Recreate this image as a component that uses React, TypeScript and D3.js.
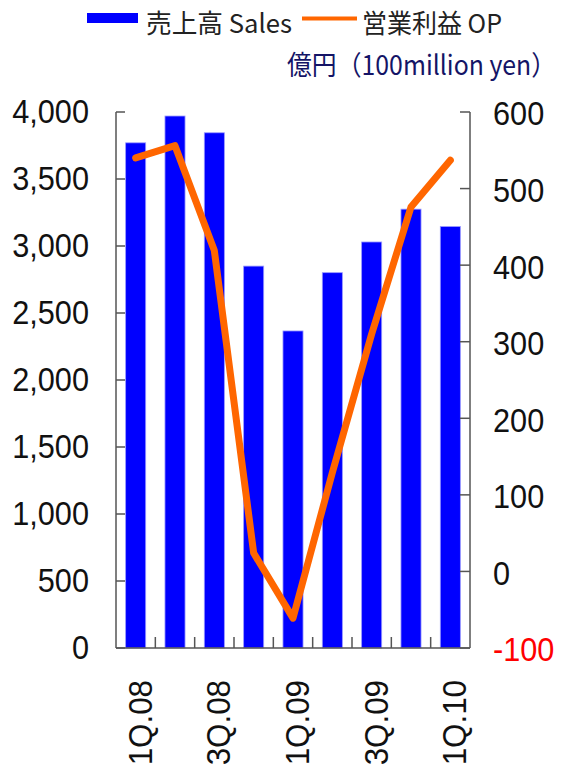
import React from "react";
import * as d3 from "d3";

// Quarterly figures, 100 million yen
const quarters = ["1Q.08", "2Q.08", "3Q.08", "4Q.08", "1Q.09", "2Q.09", "3Q.09", "4Q.09", "1Q.10"];
const sales = [3770, 3970, 3845, 2850, 2366, 2801, 3030, 3275, 3145];
const operatingProfit = [540, 556, 419, 24, -61, 129, 310, 476, 537];
const salesTicks = [0, 500, 1000, 1500, 2000, 2500, 3000, 3500, 4000];
const opTicks = [-100, 0, 100, 200, 300, 400, 500, 600];
const shownQuarterLabels = ["1Q.08", "3Q.08", "1Q.09", "3Q.09", "1Q.10"];

const W = 563;
const H = 765;
const plot = { left: 116, right: 470, top: 112, bottom: 648 };

const NUM_FONT = "'Liberation Sans', Arial, sans-serif";
const JP_FONT = "'Noto Sans CJK JP', 'Liberation Sans', sans-serif";
const AXIS_COLOR = "#555555";

export default function App() {
  const x = d3
    .scaleBand<string>()
    .domain(quarters)
    .range([plot.left, plot.right])
    .paddingInner(0.49)
    .paddingOuter(0.245);
  const band = d3.scaleBand<string>().domain(quarters).range([plot.left, plot.right]);
  const ySales = d3.scaleLinear().domain([0, 4000]).range([plot.bottom, plot.top]);
  const yOp = d3.scaleLinear().domain([-100, 600]).range([plot.bottom, plot.top]);
  const fmt = d3.format(",");

  const line = d3
    .line<number>()
    .x((_, i) => (band(quarters[i]) as number) + band.bandwidth() / 2)
    .y((d) => yOp(d));

  return (
    <svg
      width={W}
      height={H}
      style={{ position: "absolute", left: 0, top: 0, background: "#fff" }}
    >
      {/* legend */}
      <rect x={87} y={13} width={51} height={10} fill="#0000ff" />
      <text
        x={146}
        y={33}
        fontFamily={JP_FONT}
        fontSize={26}
        fill="#222"
        textLength={146}
        lengthAdjust="spacingAndGlyphs"
      >
        売上高 Sales
      </text>
      <line x1={302} x2={357} y1={18.5} y2={18.5} stroke="#ff6600" strokeWidth={4} />
      <text
        x={362}
        y={33}
        fontFamily={JP_FONT}
        fontSize={26}
        fill="#222"
        textLength={140}
        lengthAdjust="spacingAndGlyphs"
      >
        営業利益 OP
      </text>
      <text
        transform="translate(556,75) scale(0.92,1)"
        textAnchor="end"
        fontFamily={JP_FONT}
        fontSize={27}
        fill="#141466"
      >
        億円（100million yen）
      </text>

      {/* bars */}
      {sales.map((v, i) => (
        <rect
          key={quarters[i]}
          x={x(quarters[i])}
          y={ySales(v)}
          width={x.bandwidth()}
          height={ySales(0) - ySales(v)}
          fill="#0000ff"
          stroke="#9a9aff"
          strokeWidth={0.8}
        />
      ))}

      {/* operating profit line */}
      <path
        d={line(operatingProfit) || ""}
        fill="none"
        stroke="#ff6600"
        strokeWidth={7}
        strokeLinejoin="round"
        strokeLinecap="round"
      />

      {/* axes frame */}
      <g stroke={AXIS_COLOR} strokeWidth={1.5} fill="none">
        <line x1={plot.left} x2={plot.left} y1={plot.top} y2={plot.bottom} />
        <line x1={plot.right} x2={plot.right} y1={plot.top} y2={plot.bottom} />
        <line x1={plot.left} x2={plot.right} y1={plot.bottom} y2={plot.bottom} />
        {salesTicks.map((t) => (
          <line key={"ls" + t} x1={plot.left} x2={plot.left + 9} y1={ySales(t)} y2={ySales(t)} />
        ))}
        {opTicks.map((t) => (
          <line key={"rs" + t} x1={plot.right - 10} x2={plot.right} y1={yOp(t)} y2={yOp(t)} />
        ))}
        {quarters.slice(1).map((q) => (
          <line
            key={"bt" + q}
            x1={band(q) as number}
            x2={band(q) as number}
            y1={plot.bottom - 11}
            y2={plot.bottom}
          />
        ))}
      </g>

      {/* left axis labels */}
      {salesTicks.map((t) => (
        <text
          key={"lt" + t}
          transform={`translate(89,${ySales(t)}) scale(0.93,1)`}
          textAnchor="end"
          dominantBaseline="central"
          fontFamily={NUM_FONT}
          fontSize={33}
          fill="#111"
        >
          {fmt(t)}
        </text>
      ))}

      {/* right axis labels */}
      {opTicks.map((t) => (
        <text
          key={"rt" + t}
          transform={`translate(493,${yOp(t) + 2}) scale(0.93,1)`}
          textAnchor="start"
          dominantBaseline="central"
          fontFamily={NUM_FONT}
          fontSize={33}
          fill={t < 0 ? "#ff0000" : "#111"}
        >
          {t}
        </text>
      ))}

      {/* category labels */}
      {shownQuarterLabels.map((q) => (
        <text
          key={"cx" + q}
          transform={`translate(${(band(q) as number) + band.bandwidth() / 2 + 16},680) rotate(-90) scale(0.95,1)`}
          textAnchor="end"
          fontFamily={NUM_FONT}
          fontSize={33}
          fill="#111"
        >
          {q}
        </text>
      ))}
    </svg>
  );
}
